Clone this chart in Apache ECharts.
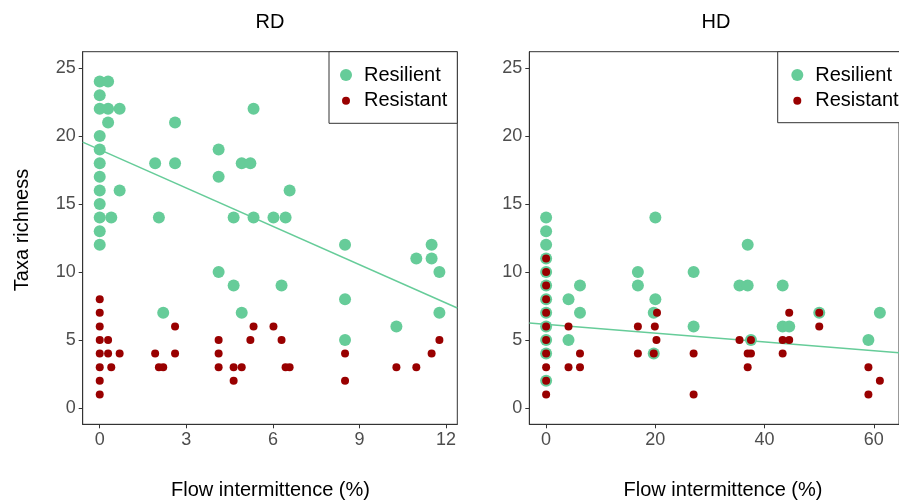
<!DOCTYPE html>
<html><head><meta charset="utf-8">
<script src="https://cdn.jsdelivr.net/npm/echarts@6/dist/echarts.min.js"></script>
<style>html,body{margin:0;padding:0;background:#fff}#c{width:899px;height:503px}</style>
</head><body><div id="c"></div>
<script>
const panelTitles = ['RD', 'HD'];
const xTitle = 'Flow intermittence (%)';
const yTitle = 'Taxa richness';
const seriesNames = ['Resilient', 'Resistant'];
const yTicks = [0, 5, 10, 15, 20, 25];
const rdXTicks = [0, 3, 6, 9, 12];
const hdXTicks = [0, 20, 40, 60];

const rdResilient = [
  [0,24],[0,23],[0,22],[0,20],[0,19],[0,18],[0,17],[0,16],[0,15],[0,14],[0,13],[0,12],
  [0.29,24],[0.29,22],[0.29,21],[0.40,14],[0.69,22],[0.69,16],
  [1.92,18],[2.05,14],[2.20,7],[2.61,21],[2.61,18],
  [4.12,19],[4.12,17],[4.12,10],[4.64,14],[4.64,9],[4.92,18],[4.92,7],
  [5.22,18],[5.33,22],[5.33,14],[6.02,14],[6.30,9],[6.44,14],[6.58,16],
  [8.5,12],[8.5,8],[8.5,5],[10.28,6],[10.97,11],[11.5,12],[11.5,11],[11.77,10],[11.77,7]
];
const rdResistant = [
  [0,8],[0,7],[0,6],[0,5],[0,4],[0,3],[0,2],[0,1],
  [0.29,5],[0.29,4],[0.40,3],[0.69,4],
  [1.92,4],[2.05,3],[2.20,3],[2.61,6],[2.61,4],
  [4.12,5],[4.12,4],[4.12,3],[4.64,3],[4.64,2],[4.92,3],
  [5.22,5],[5.33,6],[6.02,6],[6.30,5],[6.44,3],[6.58,3],
  [8.5,4],[8.5,2],[10.28,3],[10.97,3],[11.5,4],[11.77,5]
];
const hdResilient = [
  [0,14],[0,13],[0,12],[0,11],[0,10],[0,9],[0,8],[0,7],[0,6],[0,5],[0,4],[0,2],
  [4.1,8],[4.1,5],[6.2,9],[6.2,7],[16.8,10],[16.8,9],
  [19.7,7],[19.7,4],[20.0,14],[20.0,8],[27.0,10],[27.0,6],
  [35.4,9],[36.9,12],[36.9,9],[37.5,5],[43.3,9],[43.3,6],[44.5,6],
  [50.0,7],[59.0,5],[61.1,7]
];
const hdResistant = [
  [0,11],[0,10],[0,9],[0,8],[0,7],[0,6],[0,5],[0,4],[0,3],[0,2],[0,1],
  [4.1,6],[4.1,3],[6.2,4],[6.2,3],[16.8,6],[16.8,4],
  [19.7,4],[19.9,6],[20.3,7],[20.2,5],[27.0,4],[27.0,1],
  [35.4,5],[36.9,4],[36.9,3],[37.5,5],[37.5,4],[43.3,5],[43.3,4],[44.5,7],[44.5,5],
  [50.0,7],[50.0,6],[59.0,3],[59.0,1],[61.1,2]
];
// linear fits: [intercept, slope]
const rdFit = [19.0, -0.94];
const hdFit = [6.15, -0.0324];

const rdXRange = [-0.59, 12.39];
const hdXRange = [-3.08, 64.6];
const yRange = [-1.2, 26.2];

const FONT = 'Liberation Sans, Arial, sans-serif';
const GREEN = '#66CC99';
const RED = '#990000';

function fitLine(fit, range) {
  return [[range[0], fit[0] + fit[1] * range[0]], [range[1], fit[0] + fit[1] * range[1]]];
}
function xAxis(gi, range, ticks) {
  return {
    type: 'value', gridIndex: gi, min: range[0], max: range[1],
    axisLine: { show: true, onZero: false, lineStyle: { color: '#333', width: 1 } },
    axisTick: { show: true, inside: false, length: 4, lineStyle: { color: '#333' }, customValues: ticks },
    axisLabel: { color: '#4d4d4d', fontSize: 18, fontFamily: FONT, margin: 7, customValues: ticks },
    splitLine: { show: false }
  };
}
function yAxis(gi) {
  return {
    type: 'value', gridIndex: gi, min: yRange[0], max: yRange[1],
    axisLine: { show: true, onZero: false, lineStyle: { color: '#333', width: 1 } },
    axisTick: { show: true, inside: false, length: 4, lineStyle: { color: '#333' }, customValues: yTicks },
    axisLabel: { color: '#4d4d4d', fontSize: 18, fontFamily: FONT, margin: 7, customValues: yTicks },
    splitLine: { show: false }
  };
}
function scatter(name, data, gi, color, size) {
  return { type: 'scatter', name: name, data: data, xAxisIndex: gi, yAxisIndex: gi,
    symbol: 'circle', symbolSize: size, itemStyle: { color: color, opacity: 1 }, silent: true, z: 3 };
}
function line(data, gi) {
  return { type: 'line', data: data, xAxisIndex: gi, yAxisIndex: gi, symbol: 'none',
    lineStyle: { color: GREEN, width: 1.5 }, silent: true, z: 2, clip: true };
}
function legendItem(name, left, top, h) {
  return {
    data: [{ name: name, icon: 'circle' }], left: left, top: top, orient: 'vertical',
    itemWidth: 26, itemHeight: h, padding: 0, itemGap: 0, selectedMode: false, z: 10,
    textStyle: { fontSize: 20, color: '#000', fontFamily: FONT, lineHeight: 22 }
  };
}
function txt(text, x, y, size, rot) {
  return { type: 'text', x: x, y: y, rotation: rot || 0, z: 10,
    style: { text: text, fontSize: size, fontFamily: FONT, fill: '#000',
      align: 'center', verticalAlign: 'middle', textAlign: 'center', textVerticalAlign: 'middle' } };
}

const chart = echarts.init(document.getElementById('c'), null, { renderer: 'canvas' });
chart.setOption({
  backgroundColor: '#fff',
  animation: false,
  grid: [
    { left: 82.7, right: 899 - 457.3, top: 51.7, bottom: 503 - 424.3, show: true,
      borderColor: '#333', borderWidth: 1, backgroundColor: '#fff', containLabel: false },
    { left: 529.3, right: -8, top: 51.7, bottom: 503 - 424.3, show: true,
      borderColor: '#333', borderWidth: 1, backgroundColor: '#fff', containLabel: false }
  ],
  xAxis: [xAxis(0, rdXRange, rdXTicks), xAxis(1, hdXRange, hdXTicks)],
  yAxis: [yAxis(0), yAxis(1)],
  legend: [
    legendItem(seriesNames[0], 340, 64, 12),
    legendItem(seriesNames[1], 342, 89.7, 8),
    legendItem(seriesNames[0], 791.3, 64, 12),
    legendItem(seriesNames[1], 793.3, 89.7, 8)
  ],
  graphic: [
    { type: 'rect', shape: { x: 329, y: 51.7, width: 128.3, height: 71.6 },
      style: { fill: '#fff', stroke: '#333', lineWidth: 1 }, z: 5 },
    { type: 'rect', shape: { x: 777.7, y: 51.7, width: 150, height: 71 },
      style: { fill: '#fff', stroke: '#333', lineWidth: 1 }, z: 5 },
    txt(panelTitles[0], 270, 22, 20),
    txt(panelTitles[1], 716, 22, 20),
    txt(xTitle, 270.5, 490, 20),
    txt(xTitle, 723, 490, 20),
    txt(yTitle, 22, 230, 20, Math.PI / 2)
  ],
  series: [
    line(fitLine(rdFit, rdXRange), 0),
    scatter(seriesNames[0], rdResilient, 0, GREEN, 12),
    scatter(seriesNames[1], rdResistant, 0, RED, 8),
    line(fitLine(hdFit, hdXRange), 1),
    scatter(seriesNames[0], hdResilient, 1, GREEN, 12),
    scatter(seriesNames[1], hdResistant, 1, RED, 8)
  ]
});
</script></body></html>
